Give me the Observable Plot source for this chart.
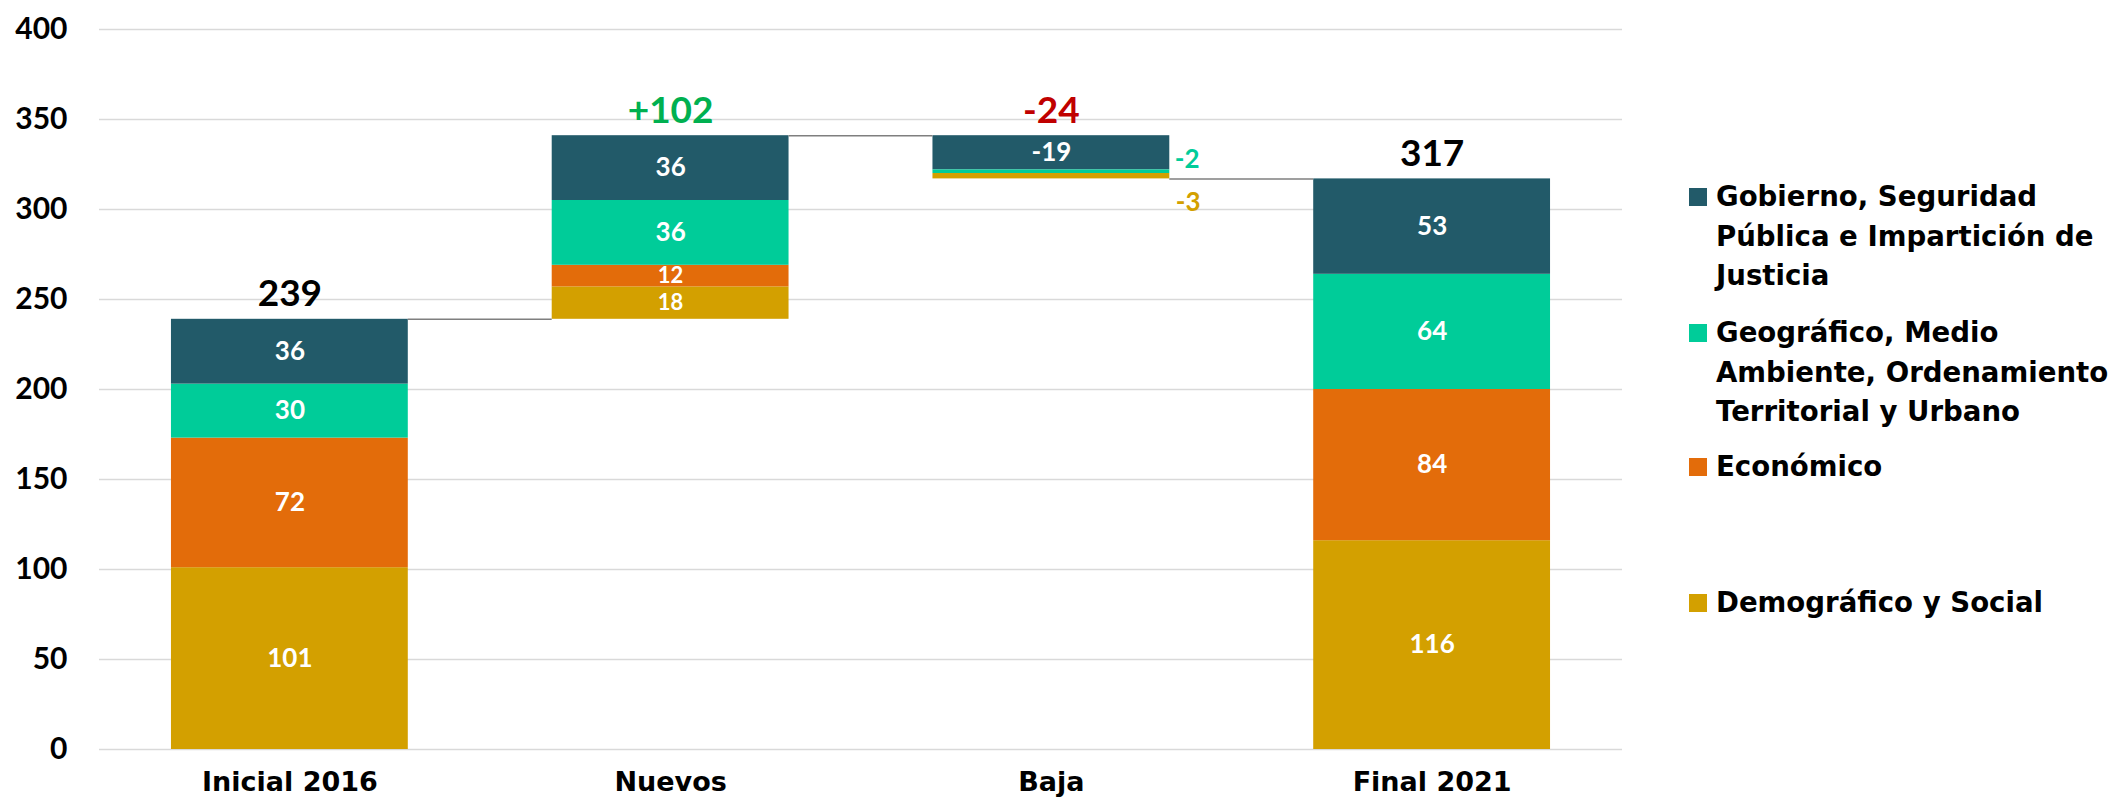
<!DOCTYPE html>
<html>
<head>
<meta charset="utf-8">
<script src="https://cdn.jsdelivr.net/npm/d3@7"></script>
<script src="https://cdn.jsdelivr.net/npm/@observablehq/plot@0.6"></script>
<style>
  html, body { margin: 0; padding: 0; background: #fff; }
  #wrap { position: relative; width: 2115px; height: 805px; overflow: hidden; }
  .leg { position: absolute; left: 1689px; font-family: "DejaVu Sans", sans-serif; font-weight: bold; font-size: 27.6px; line-height: 39.5px; color: #000; white-space: nowrap; }
  .leg .sw { position: absolute; left: 0; width: 18px; height: 18px; top: 11px; }
  .leg .tx { position: absolute; left: 27px; top: 0; }
</style>
</head>
<body>
<div id="wrap"></div>
<script>
// ---- data ----
const categories = ["Inicial 2016", "Nuevos", "Baja", "Final 2021"];
const sectors = [
  "Demográfico y Social",
  "Económico",
  "Geográfico, Medio Ambiente, Ordenamiento Territorial y Urbano",
  "Gobierno, Seguridad Pública e Impartición de Justicia"
];
const sectorColors = ["#D3A000", "#E36C0A", "#00CC99", "#225A69"];
const demografico = [101, 18, -3, 116];
const economico = [72, 12, 0, 84];
const geografico = [30, 36, -2, 64];
const gobierno = [36, 36, -19, 53];
const totalLabels = ["239", "+102", "-24", "317"];
const totalColors = ["#000000", "#00B050", "#C00000", "#000000"];
const yTicks = [0, 50, 100, 150, 200, 250, 300, 350, 400];
const legendLines = [
  ["Gobierno, Seguridad", "Pública e Impartición de", "Justicia"],
  ["Geográfico, Medio", "Ambiente, Ordenamiento", "Territorial y Urbano"],
  ["Económico"],
  ["Demográfico y Social"]
];

// ---- build waterfall segments ----
const series = [demografico, economico, geografico, gobierno];
const hw = 0.311; // half bar width in category units
const colTotals = categories.map((_, i) => d3.sum(series, s => s[i]));
const isDelta = [false, true, true, false];
let running = 0;
const segments = [];
const totals = [];
const connectors = [];
categories.forEach((c, i) => {
  const base = isDelta[i] ? running : 0;
  const tot = colTotals[i];
  if (tot >= 0) {
    let y = base;
    series.forEach((s, k) => {
      const v = s[i];
      segments.push({i, k, y1: y, y2: y + v, v});
      y += v;
    });
  } else {
    let y = base;
    for (let k = series.length - 1; k >= 0; k--) {
      const v = series[k][i];
      segments.push({i, k, y1: y + v, y2: y, v});
      y += v;
    }
  }
  const end = base + tot;
  totals.push({i, label: totalLabels[i], color: totalColors[i], top: Math.max(base, end)});
  running = end;
  if (i < categories.length - 1) connectors.push({i, y: end});
});

const small = d => d.v < 0 && Math.abs(d.v) < 5;
const inside = segments.filter(d => d.v !== 0 && !small(d));
const outside = segments.filter(d => d.v !== 0 && small(d));

const chart = Plot.plot({
  width: 2115,
  height: 805,
  marginLeft: 99,
  marginRight: 493,
  marginTop: 29,
  marginBottom: 56,
  x: {type: "linear", domain: [-0.5, 3.5], axis: null},
  y: {domain: [0, 400], axis: null},
  style: {background: "#fff"},
  marks: [
    Plot.ruleY(yTicks, {y: d => d, stroke: "#d9d9d9", strokeWidth: 1.5}),
    Plot.rectY(segments.filter(d => d.v !== 0), {
      x1: d => d.i - hw, x2: d => d.i + hw,
      y1: "y1", y2: "y2",
      fill: d => sectorColors[d.k]
    }),
    Plot.ruleY(connectors, {
      y: "y", x1: d => d.i + hw, x2: d => d.i + 1 - hw,
      stroke: "#7f7f7f", strokeWidth: 1.5
    }),
    Plot.text(inside, {
      x: "i", y: d => (d.y1 + d.y2) / 2,
      text: d => String(d.v),
      fill: "#fff", fontSize: d => (d.v > 0 && d.v < 20 ? 22 : 26), fontWeight: "bold",
      fontFamily: "Lato, sans-serif"
    }),
    Plot.text(outside.filter(d => d.k === 2), {
      x: d => d.i + hw, y: d => (d.y1 + d.y2) / 2,
      text: d => String(d.v),
      fill: d => sectorColors[d.k], textAnchor: "start", dx: 5, dy: -12,
      fontSize: 26, fontWeight: "bold", fontFamily: "Lato, sans-serif"
    }),
    Plot.text(outside.filter(d => d.k === 0), {
      x: d => d.i + hw, y: d => (d.y1 + d.y2) / 2,
      text: d => String(d.v),
      fill: d => sectorColors[d.k], textAnchor: "start", dx: 6, dy: 26,
      fontSize: 26, fontWeight: "bold", fontFamily: "Lato, sans-serif"
    }),
    Plot.text(totals, {
      x: "i", y: "top", text: "label", fill: "color", dy: -25,
      fontSize: 37, fontWeight: "bold", fontFamily: "Lato, sans-serif"
    }),
    Plot.text(yTicks, {
      y: d => d, text: d => String(d), frameAnchor: "left", textAnchor: "end", dx: -32,
      fontSize: 30, fontWeight: "bold", fontFamily: "Lato, sans-serif", fill: "#000"
    }),
    Plot.text(categories, {
      x: (d, i) => i, text: d => d, frameAnchor: "bottom", dy: 41,
      fontSize: 27, fontWeight: "bold", fontFamily: "DejaVu Sans, sans-serif", fill: "#000"
    })
  ]
});

const wrap = document.getElementById("wrap");
wrap.appendChild(chart);

// legend (HTML), top to bottom: Gobierno, Geográfico, Económico, Demográfico
const legendOrder = [3, 2, 1, 0];
const legendTops = [177, 313, 447, 583];
legendOrder.forEach((k, j) => {
  const item = document.createElement("div");
  item.className = "leg";
  item.style.top = legendTops[j] + "px";
  item.title = sectors[k];
  const sw = document.createElement("div");
  sw.className = "sw";
  sw.style.background = sectorColors[k];
  const tx = document.createElement("div");
  tx.className = "tx";
  tx.innerHTML = legendLines[j].join("<br>");
  item.appendChild(sw);
  item.appendChild(tx);
  wrap.appendChild(item);
});
</script>
</body>
</html>
